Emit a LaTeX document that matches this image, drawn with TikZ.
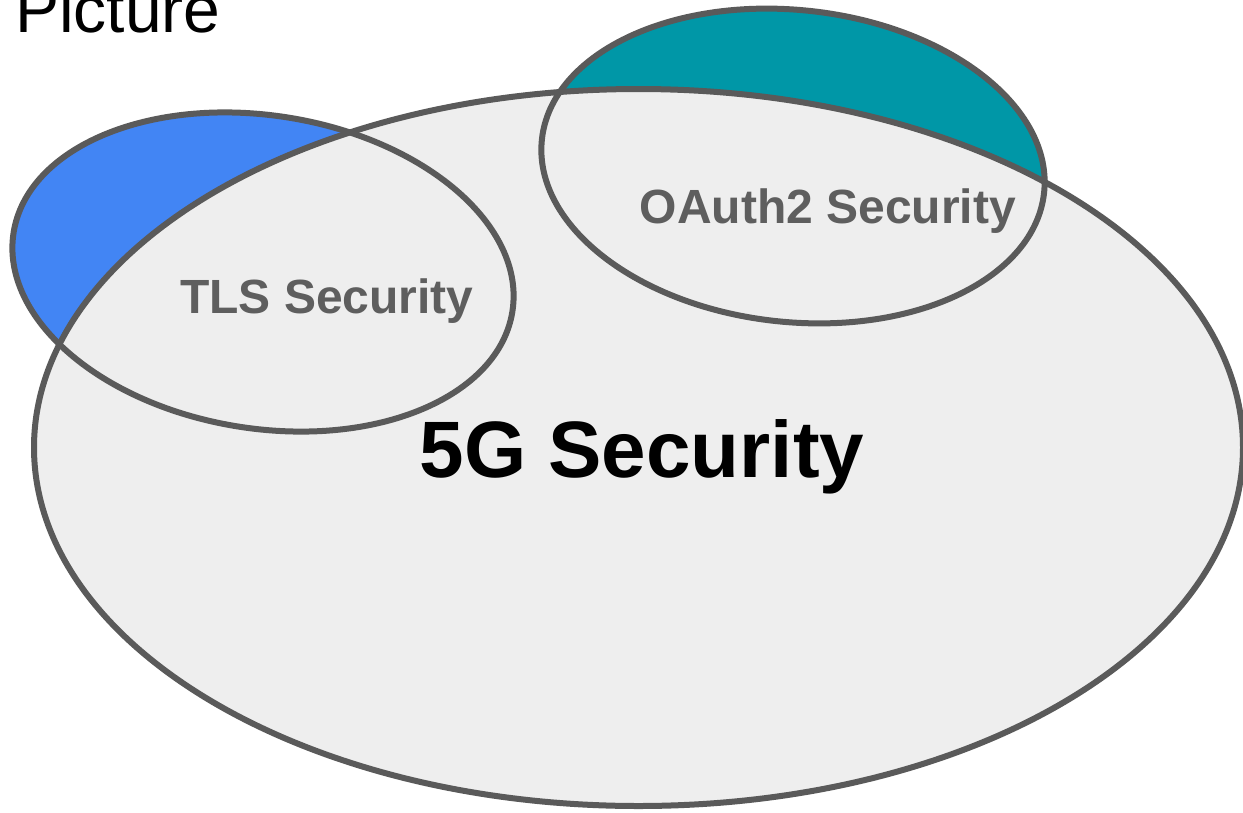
\documentclass[tikz,border=0pt]{standalone}
\usepackage{fontspec}
\setmainfont{Liberation Sans}
\begin{document}
\begin{tikzpicture}[x=1pt,y=-1pt,
  ring/.style={draw=ringgray,line width=6pt},
  sublabel/.style={font=\bfseries\fontsize{48}{52}\selectfont,text=labelgray,inner sep=0pt,anchor=base},
  mainlabel/.style={font=\bfseries\fontsize{80}{84}\selectfont,text=black,inner sep=0pt,anchor=base},
  titlelabel/.style={font=\fontsize{66}{70}\selectfont,text=black,inner sep=0pt,anchor=base west}]
\definecolor{ringgray}{HTML}{5A5A5A}
\definecolor{labelgray}{HTML}{5E5E5E}
\definecolor{areagray}{HTML}{EEEEEE}
\definecolor{tlsblue}{HTML}{4285F4}
\definecolor{oauthteal}{HTML}{0097A7}
\useasboundingbox (0,0) rectangle (1243,812);

% centres of the three sets
\coordinate (tls) at (263,272);
\coordinate (oauth) at (793,166);
\coordinate (fiveg) at (638.5,447.5);

% coloured parts of the small sets (covered inside the big set)
\fill[tlsblue] (tls) ellipse [x radius=252.5pt, y radius=156.5pt, rotate=-9];
\fill[oauthteal] (oauth) ellipse [x radius=252.5pt, y radius=156pt, rotate=-6];
\fill[areagray] (fiveg) ellipse [x radius=604.5pt, y radius=358.5pt];

% outlines
\draw[ring] (fiveg) ellipse [x radius=604.5pt, y radius=358.5pt];
\draw[ring] (tls) ellipse [x radius=252.5pt, y radius=156.5pt, rotate=-9];
\draw[ring] (oauth) ellipse [x radius=252.5pt, y radius=156pt, rotate=-6];

% labels
\node[titlelabel] (title) at (15,32) {Picture};
\node[sublabel] (tlslabel) at (327,313) {TLS Security};
\node[sublabel] (oauthlabel) at (828,223) {OAuth2 Security};
\node[mainlabel] (fiveglabel) at (642,477) {5G Security};
\end{tikzpicture}
\end{document}
